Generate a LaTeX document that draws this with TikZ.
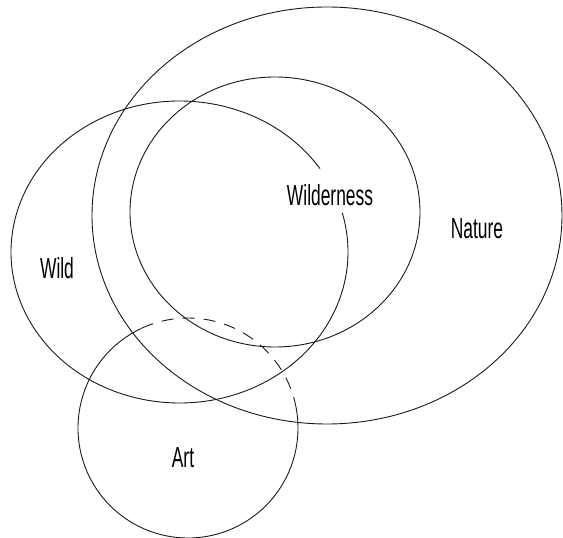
\documentclass[tikz,border=0pt]{standalone}
\usepackage{fontspec}
\usepackage{tikz}
\newfontfamily\condfont[FakeStretch=0.6]{Liberation Sans}

\begin{document}
\begin{tikzpicture}[
      x=1pt, y=1pt,
      ring/.style={draw=black!90, line width=0.9pt},
      artdash/.style={ring, dash pattern=on 12pt off 9pt},
      lbl/.style={font=\condfont\fontsize{29}{31}\selectfont, inner sep=0pt}]
    \useasboundingbox (0,0) rectangle (563,538);
    % Nature and Wilderness
    \draw[ring] (327,322.5) ellipse [x radius=235, y radius=208.5];
    \draw[ring] (275,326) ellipse [x radius=145, y radius=135];
    % Wild, left open where the Wilderness label sits
    \draw[ring] (179.5,286) ++(33.5:168.5 and 151) arc [start angle=33.5, end angle=375, x radius=168.5, y radius=151];
    % Art, upper part dashed
    \draw[ring] (188,110) ++(115:110) arc [start angle=115, end angle=370, radius=110];
    \draw[artdash] (188,110) ++(10:110) arc [start angle=10, end angle=115, radius=110];
    \node[lbl] (wild) at (57,270) {Wild};
    \node[lbl] (wilderness) at (330,343) {Wilderness};
    \node[lbl] (nature) at (477,309) {Nature};
    \node[lbl] (art) at (183,80) {Art};
  \end{tikzpicture}
\end{document}
